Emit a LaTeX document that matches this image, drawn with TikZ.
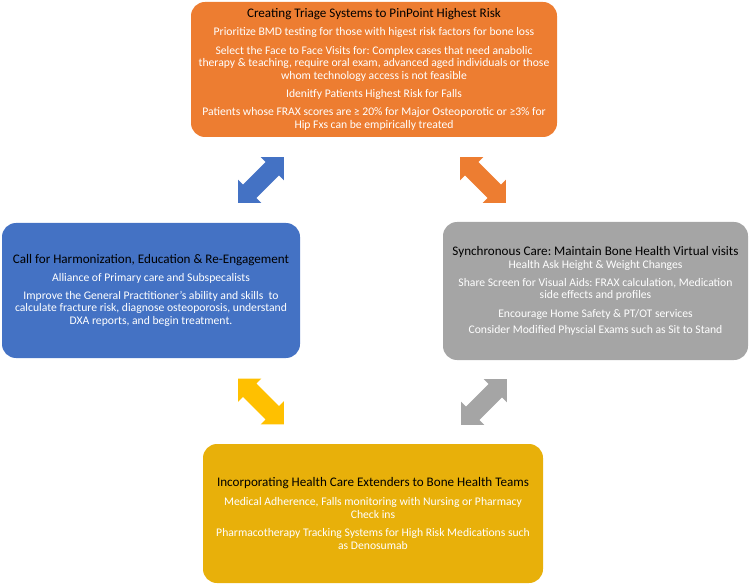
\documentclass[tikz,border=0pt]{standalone}
\usepackage{fontspec}
\setmainfont{Carlito}
\usepackage{tikz}
\definecolor{triagecolor}{HTML}{ED7D31}
\definecolor{harmcolor}{HTML}{4472C4}
\definecolor{synccolor}{HTML}{A5A5A5}
\definecolor{extcolor}{HTML}{E8B00A}
\definecolor{arrowgold}{HTML}{FFC000}
\frenchspacing

\newcommand{\boxhead}[1]{{\fontsize{13.1}{12.7}\selectfont\color{black}#1}}

\tikzset{pics/swap/.style={code={
  \fill[#1] (-32.5,0) -- (-16,16.5) -- (-16,9.5) -- (16,9.5) -- (16,16.5) -- (32.5,0)
    -- (16,-16.5) -- (16,-9.5) -- (-16,-9.5) -- (-16,-16.5) -- cycle;}}}

\begin{document}
\begin{tikzpicture}[x=1pt,y=1pt,
    infobox/.style={rounded corners=14pt,inner sep=0pt,align=center,text=white,
                    font=\fontsize{11.65}{12.7}\selectfont}]
  \useasboundingbox (0,0) rectangle (749,-585);

  % the four boxes
  \node[infobox,fill=triagecolor,minimum width=366pt,minimum height=135pt] (triage) at (374,-69.5)
    {\boxhead{Creating Triage Systems to PinPoint Highest Risk}\\[5.5pt]
     Prioritize BMD testing for those with higest risk factors for bone loss\\[5.5pt]
     Select the Face to Face Visits for: Complex cases that need anabolic\\
     therapy \& teaching, require oral exam, advanced aged individuals or those\\
     whom technology access is not feasible\\[5.5pt]
     Idenitfy Patients Highest Risk for Falls\\[5.5pt]
     Patients whose FRAX scores are ≥ 20\% for Major Osteoporotic or ≥3\% for\\
     Hip Fxs can be empirically treated};
  \node[infobox,fill=harmcolor,minimum width=298pt,minimum height=135pt] (harmon) at (151,-290.5)
    {\boxhead{Call for Harmonization, Education \& Re-Engagement}\\[5.5pt]
     Alliance of Primary care and Subspecalists\\[5pt]
     Improve the General Practitioner’s ability and skills\ \ to\\
     calculate fracture risk, diagnose osteoporosis, understand\\
     DXA reports, and begin treatment.};
  \node[infobox,fill=synccolor,minimum width=305pt,minimum height=138pt] (sync) at (595.5,-291)
    {\boxhead{Synchronous Care: Maintain Bone Health Virtual visits}\\
     Health Ask Height \& Weight Changes\\[5.5pt]
     Share Screen for Visual Aids: FRAX calculation, Medication\\
     side effects and profiles\\[5.5pt]
     Encourage Home Safety \& PT/OT services\\[4pt]
     Consider Modified Physcial Exams such as Sit to Stand};
  \node[infobox,fill=extcolor,minimum width=340pt,minimum height=139pt] (extend) at (373,-513.5)
    {\boxhead{Incorporating Health Care Extenders to Bone Health Teams}\\[6pt]
     Medical Adherence, Falls monitoring with Nursing or Pharmacy\\
     Check ins\\[5.5pt]
     Pharmacotherapy Tracking Systems for High Risk Medications such\\
     as Denosumab};

  % two-way arrows between boxes
  \coordinate (swapa) at (261,-180);
  \coordinate (swapb) at (483,-180);
  \coordinate (swapc) at (261,-401.5);
  \coordinate (swapd) at (484,-402);
  \pic[rotate=45] at (swapa) {swap=harmcolor};
  \pic[rotate=-45] at (swapb) {swap=triagecolor};
  \pic[rotate=-45] at (swapc) {swap=arrowgold};
  \pic[rotate=45] at (swapd) {swap=synccolor};
\end{tikzpicture}
\end{document}
